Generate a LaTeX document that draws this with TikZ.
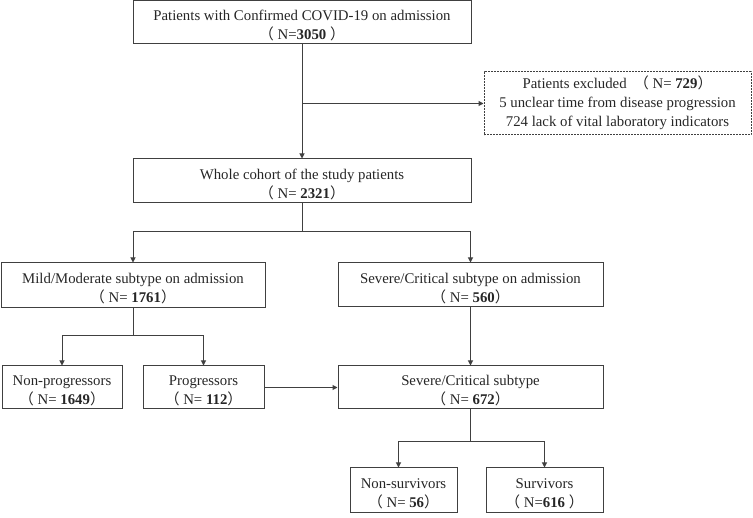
\documentclass[tikz,border=0pt]{standalone}
\usepackage{fontspec}
\setmainfont{Liberation Serif}
\newfontfamily\cjk{Noto Sans CJK SC}
\usetikzlibrary{arrows.meta}
\newcommand{\lpar}{\smash{\cjk （}}
\newcommand{\rpar}{\smash{\cjk ）}}
\newcommand{\tstrut}{\rule{0pt}{15.5pt}}
\begin{document}
\begin{tikzpicture}[x=1pt,y=-1pt,
  box/.style={draw=black!75,line width=1pt,rectangle,inner sep=0pt,align=center,
    font=\fontsize{14.8}{19}\selectfont,text=black!85},
  dbox/.style={box,dashed,dash pattern=on 2pt off 1pt},
  conn/.style={draw=black!75,line width=1pt},
  arr/.style={conn,-{Triangle[length=5pt,width=5pt]}}]
\useasboundingbox (0,0) rectangle (753,518);
\node[box,minimum width=338,minimum height=43] (b1) at (302,22.5) {\tstrut Patients with Confirmed COVID-19 on admission\\\lpar\ N=\textbf{3050} \rpar};
\node[dbox,minimum width=267,minimum height=63] (ex) at (617.5,103.5) {Patients excluded \ \lpar\ N= \textbf{729}\rpar\\5 unclear time from disease progression\\724 lack of vital laboratory indicators};
\node[box,minimum width=338,minimum height=44] (b2) at (302,181) {\tstrut Whole cohort of the study patients\\\lpar\ N= \textbf{2321}\rpar};
\node[box,minimum width=264,minimum height=45] (b3) at (133,285.5) {\tstrut Mild/Moderate subtype on admission\\\lpar\ N= \textbf{1761}\rpar};
\node[box,minimum width=265,minimum height=44] (b4) at (470.5,285) {\tstrut Severe/Critical subtype on admission\\\lpar\ N= \textbf{560}\rpar};
\node[box,minimum width=120,minimum height=43] (b5) at (62,387.5) {\tstrut Non-progressors\\\lpar\ N= \textbf{1649}\rpar};
\node[box,minimum width=121,minimum height=43] (b6) at (203.5,387.5) {\tstrut Progressors\\\lpar\ N= \textbf{112}\rpar};
\node[box,minimum width=265,minimum height=43] (b7) at (470.5,387.5) {\tstrut Severe/Critical subtype\\\lpar\ N= \textbf{672}\rpar};
\node[box,minimum width=107,minimum height=45] (b8) at (403.5,490.5) {\tstrut Non-survivors\\\lpar\ N= \textbf{56}\rpar};
\node[box,minimum width=117,minimum height=45] (b9) at (544.5,490.5) {\tstrut Survivors\\\lpar\ N=\textbf{616} \rpar};
% connectors
\coordinate (j1) at (b1.south |- ex.west);
\draw[arr] (b1.south) -- (b2.north);
\draw[arr] (j1) -- (ex.west);
\coordinate (j2) at (302,232);
\draw[conn] (b2.south) -- (j2);
\draw[arr] (j2) -| (b3.north);
\draw[arr] (j2) -| (b4.north);
\coordinate (j3) at (133,336);
\draw[conn] (b3.south) -- (j3);
\draw[arr] (j3) -| (b5.north);
\draw[arr] (j3) -| (b6.north);
\draw[arr] (b4.south) -- (b7.north);
\draw[arr] (b6.east) -- (b7.west);
\coordinate (j4) at (470.5,442);
\draw[conn] (b7.south) -- (j4);
\draw[arr] (j4) -| ([xshift=-5pt]b8.north);
\draw[arr] (j4) -| (b9.north);
\end{tikzpicture}
\end{document}
